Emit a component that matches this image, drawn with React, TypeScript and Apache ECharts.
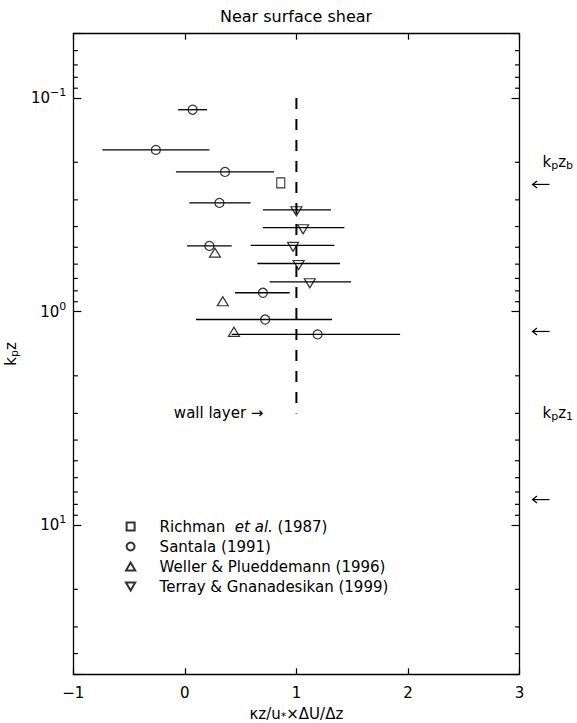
import React, { useEffect, useRef } from 'react';
import * as echarts from 'echarts';

const FONT = '"DejaVu Sans", "Liberation Sans", Arial, sans-serif';

// ---- axes ----
const xMin = -1;
const xMax = 3;
const xInterval = 1;
const yMin = 0.05;
const yMax = 50;
const yMinorTicks = [0.06, 0.07, 0.08, 0.09, 0.2, 0.3, 0.4, 0.5, 0.6, 0.7, 0.8, 0.9, 2, 3, 4, 5, 6, 7, 8, 9, 20, 30, 40];

// ---- data: [x, kpz] ----
const richmanPoints = [[0.86, 0.25]];

const santalaPoints = [
  [0.07, 0.1135], [-0.26, 0.175], [0.36, 0.222], [0.31, 0.31],
  [0.22, 0.493], [0.70, 0.817], [0.72, 1.09], [1.19, 1.28],
];
const santalaErrLow = [-0.06, -0.74, -0.08, 0.04, 0.02, 0.45, 0.10, 0.42];
const santalaErrHigh = [0.20, 0.22, 0.80, 0.59, 0.42, 0.94, 1.32, 1.93];

const wellerPoints = [[0.27, 0.53], [0.34, 0.895], [0.44, 1.245]];

const terrayPoints = [[1.0, 0.334], [1.06, 0.405], [0.97, 0.49], [1.02, 0.596], [1.12, 0.726]];
const terrayErrLow = [0.70, 0.70, 0.59, 0.65, 0.76];
const terrayErrHigh = [1.31, 1.43, 1.34, 1.39, 1.49];

// dashed reference line x = 1 (from kpz = 0.1 down to wall layer)
const referenceLine = [[1, 0.1], [1, 3]];
const wallLayerLabel = { x: 1, y: 3, text: 'wall layer \u2192' };

// right-hand annotations
const regimeArrows = [0.254, 1.24, 7.6];
const regimeLabels = [
  { y: 0.2, text: 'k{sub|p}z{sub|b}' },
  { y: 3.0, text: 'k{sub|p}z{sub|1}' },
];

const seriesNames = [
  'Richman et al. (1987)',
  'Santala (1991)',
  'Weller & Plueddemann (1996)',
  'Terray & Gnanadesikan (1999)',
];

const SQUARE = 'path://M0,0L10,0L10,10L0,10Z';
const TRI_UP = 'path://M5,0L10,8.66L0,8.66Z';
const TRI_DOWN = 'path://M0,0L10,0L5,8.66Z';

const BLACK = '#000';
const FS = 15;
const SUBFS = 11;
const hollow = { color: 'rgba(0,0,0,0)', borderColor: BLACK, borderWidth: 1.2 };

function isPow10(v: number) {
  const l = Math.log10(v);
  return Math.abs(l - Math.round(l)) < 1e-6;
}

function errorBars(points: number[][], lo: number[], hi: number[]) {
  return {
    type: 'custom',
    silent: true,
    z: 1,
    itemStyle: { color: BLACK },
    data: points.map((p, i) => [lo[i], hi[i], p[1]]),
    encode: { x: [0, 1], y: 2 },
    renderItem: (_p: any, api: any) => {
      const a = api.coord([api.value(0), api.value(2)]);
      const b = api.coord([api.value(1), api.value(2)]);
      return {
        type: 'line',
        shape: { x1: a[0], y1: a[1], x2: b[0], y2: b[1] },
        style: { stroke: BLACK, lineWidth: 1.3 },
      };
    },
  };
}

export default function App() {
  const ref = useRef<HTMLDivElement>(null);

  useEffect(() => {
    if (!ref.current) return;
    const chart = echarts.init(ref.current, undefined, { renderer: 'svg' });

    const axisLine = { show: true, onZero: false, lineStyle: { color: BLACK, width: 1.3 } };
    const subRich = { fontSize: SUBFS, lineHeight: 11, verticalAlign: 'bottom', fontFamily: FONT, color: BLACK };

    const option: any = {
      animation: false,
      backgroundColor: '#fff',
      color: [BLACK],
      textStyle: { fontFamily: FONT },
      grid: {
        left: 73.3,
        right: 57.5,
        top: 33.7,
        bottom: 48.7,
        containLabel: false,
        outerBoundsMode: 'none',
      },
      graphic: [
        {
          type: 'text',
          x: 296,
          y: 16,
          style: {
            text: 'Near surface shear',
            fill: BLACK,
            font: `16px ${FONT}`,
            align: 'center',
            verticalAlign: 'middle',
          },
        },
      ],
      legend: {
        data: seriesNames,
        orient: 'vertical',
        left: 125,
        top: 519,
        padding: 0,
        itemWidth: 48,
        itemHeight: 8,
        itemGap: 5,
        symbolKeepAspect: true,
        selectedMode: false,
        textStyle: {
          color: BLACK,
          fontSize: FS,
          fontFamily: FONT,
          rich: { it: { fontStyle: 'italic', fontSize: FS, fontFamily: FONT, color: BLACK } },
        },
        formatter: (name: string) =>
          name === seriesNames[0] ? 'Richman  {it|et al.} (1987)' : name,
      },
      xAxis: [
        {
          type: 'value',
          min: xMin,
          max: xMax,
          interval: xInterval,
          position: 'bottom',
          axisLine,
          axisTick: { inside: true, length: 6, lineStyle: { color: BLACK, width: 1.2 } },
          splitLine: { show: false },
          axisLabel: {
            color: BLACK,
            fontSize: FS,
            fontFamily: FONT,
            margin: 11,
            formatter: (v: number) => (v < 0 ? '\u2212' + Math.abs(v) : String(v)),
          },
          name: '\u03BAz/u{sub|*}\u00D7\u0394U/\u0394z',
          nameLocation: 'middle',
          nameGap: 29,
          nameTextStyle: {
            color: BLACK,
            fontSize: FS,
            fontFamily: FONT,
            lineHeight: 17,
            rich: { sub: { ...subRich, lineHeight: 9 } },
          },
        },
        {
          type: 'value',
          min: xMin,
          max: xMax,
          interval: xInterval,
          position: 'top',
          axisLine,
          axisTick: { inside: true, length: 6, lineStyle: { color: BLACK, width: 1.2 } },
          axisLabel: { show: false },
          splitLine: { show: false },
        },
      ],
      yAxis: [
        {
          type: 'log',
          logBase: 10,
          min: yMin,
          max: yMax,
          inverse: true,
          position: 'left',
          axisLine,
          axisTick: { inside: true, length: 8, lineStyle: { color: BLACK, width: 1.2 } },
          splitLine: { show: false },
          axisLabel: {
            color: BLACK,
            fontSize: FS,
            fontFamily: FONT,
            margin: 7,
            formatter: (v: number) => {
              if (!isPow10(v)) return '';
              const e = Math.round(Math.log10(v));
              return '{b|10}{sup|' + (e < 0 ? '\u2212' + Math.abs(e) : e) + '}';
            },
            rich: {
              b: { fontSize: FS, lineHeight: 22, fontFamily: FONT, color: BLACK },
              sup: { fontSize: SUBFS, lineHeight: 11, verticalAlign: 'top', fontFamily: FONT, color: BLACK },
            },
          },
          name: 'k{sub|p}z',
          nameLocation: 'middle',
          nameRotate: 90,
          nameGap: 35,
          nameTextStyle: {
            color: BLACK,
            fontSize: FS,
            fontFamily: FONT,
            lineHeight: 18,
            rich: { sub: subRich },
          },
        },
        {
          type: 'log',
          logBase: 10,
          min: yMin,
          max: yMax,
          inverse: true,
          position: 'right',
          axisLine,
          axisTick: { inside: true, length: 8, lineStyle: { color: BLACK, width: 1.2 } },
          axisLabel: { show: false },
          splitLine: { show: false },
        },
      ],
      series: [
        // minor ticks on both vertical frame edges
        {
          type: 'custom',
          silent: true,
          clip: false,
          itemStyle: { color: BLACK },
          data: yMinorTicks.map((v) => [xMin, v]),
          renderItem: (_p: any, api: any) => {
            const v = api.value(1);
            const l = api.coord([xMin, v]);
            const r = api.coord([xMax, v]);
            return {
              type: 'group',
              children: [
                { type: 'line', shape: { x1: l[0], y1: l[1], x2: l[0] + 4.5, y2: l[1] }, style: { stroke: BLACK, lineWidth: 1.2 } },
                { type: 'line', shape: { x1: r[0], y1: r[1], x2: r[0] - 4.5, y2: r[1] }, style: { stroke: BLACK, lineWidth: 1.2 } },
              ],
            };
          },
        },
        {
          type: 'line',
          data: referenceLine,
          symbol: 'none',
          silent: true,
          lineStyle: { color: BLACK, width: 2, type: [11, 10] },
          z: 1,
        },
        errorBars(santalaPoints, santalaErrLow, santalaErrHigh),
        errorBars(terrayPoints, terrayErrLow, terrayErrHigh),
        {
          name: seriesNames[0],
          type: 'scatter',
          data: richmanPoints,
          symbol: SQUARE,
          symbolSize: [8, 10],
          itemStyle: hollow,
          z: 3,
        },
        {
          name: seriesNames[1],
          type: 'scatter',
          data: santalaPoints,
          symbol: 'circle',
          symbolSize: 9,
          itemStyle: hollow,
          z: 3,
        },
        {
          name: seriesNames[2],
          type: 'scatter',
          data: wellerPoints,
          symbol: TRI_UP,
          symbolSize: [11, 9],
          itemStyle: hollow,
          z: 3,
        },
        {
          name: seriesNames[3],
          type: 'scatter',
          data: terrayPoints,
          symbol: TRI_DOWN,
          symbolSize: [11, 9],
          symbolOffset: [0, 1.5],
          itemStyle: hollow,
          z: 3,
        },
        // wall layer label
        {
          type: 'custom',
          silent: true,
          clip: false,
          itemStyle: { color: BLACK },
          data: [[wallLayerLabel.x, wallLayerLabel.y]],
          renderItem: (_p: any, api: any) => {
            const c = api.coord([api.value(0), api.value(1)]);
            return {
              type: 'text',
              x: c[0] - 33,
              y: c[1],
              style: {
                text: wallLayerLabel.text,
                fill: BLACK,
                font: `${FS}px ${FONT}`,
                align: 'right',
                verticalAlign: 'middle',
              },
            };
          },
        },
        // right-hand arrows
        {
          type: 'custom',
          silent: true,
          clip: false,
          itemStyle: { color: BLACK },
          data: regimeArrows.map((v) => [xMax, v]),
          renderItem: (_p: any, api: any) => {
            const c = api.coord([api.value(0), api.value(1)]);
            const x0 = c[0] + 13;
            const x1 = c[0] + 30;
            const y = c[1];
            const st = { stroke: BLACK, lineWidth: 1.2, fill: null };
            return {
              type: 'group',
              children: [
                { type: 'line', shape: { x1: x0, y1: y, x2: x1, y2: y }, style: st },
                { type: 'polyline', shape: { points: [[x0 + 4.5, y - 3.5], [x0, y], [x0 + 4.5, y + 3.5]] }, style: st },
              ],
            };
          },
        },
        // right-hand labels
        {
          type: 'custom',
          silent: true,
          clip: false,
          itemStyle: { color: BLACK },
          data: regimeLabels.map((d) => [xMax, d.y]),
          renderItem: (p: any, api: any) => {
            const c = api.coord([api.value(0), api.value(1)]);
            return {
              type: 'text',
              x: c[0] + 23,
              y: c[1],
              style: {
                text: regimeLabels[p.dataIndex].text,
                fill: BLACK,
                font: `${FS}px ${FONT}`,
                align: 'left',
                verticalAlign: 'middle',
                lineHeight: 18,
                rich: { sub: { ...subRich, fill: BLACK } },
              },
            };
          },
        },
      ],
    };

    chart.setOption(option);
    return () => chart.dispose();
  }, []);

  return (
    <div
      ref={ref}
      style={{ position: 'absolute', left: 0, top: 0, width: 577, height: 723 }}
    />
  );
}
